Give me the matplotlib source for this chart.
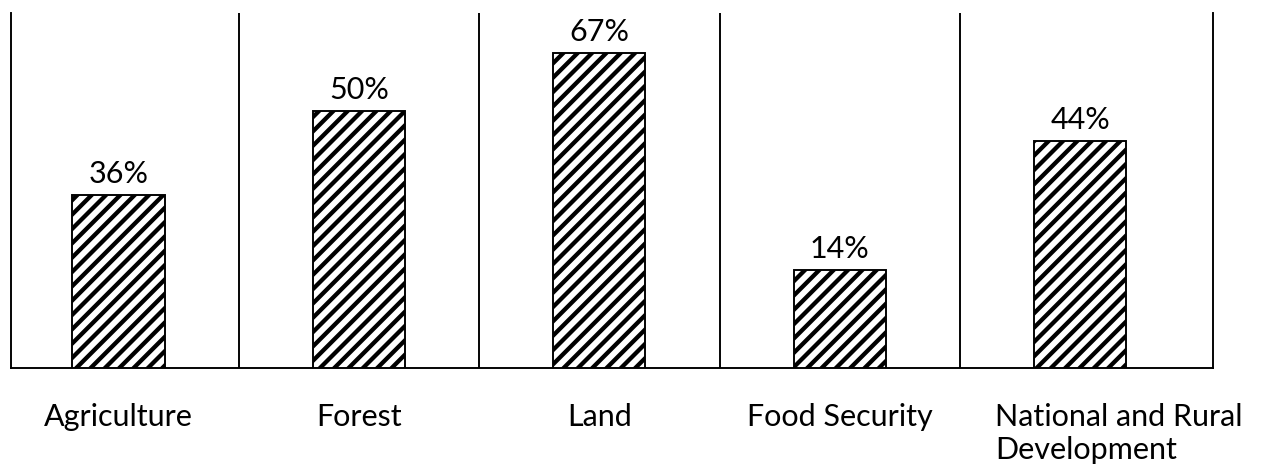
import matplotlib
matplotlib.use("Agg")
import matplotlib.pyplot as plt
import matplotlib.transforms as mtransforms
import numpy as np

categories = ["Agriculture", "Forest", "Land", "Food Security",
              "National and Rural\nDevelopment"]
bar_heights = [36.8, 54.7, 67.0, 20.9, 48.3]
value_labels = ["36%", "50%", "67%", "14%", "44%"]

DPI = 86
plt.rcParams['font.family'] = ['Lato', 'DejaVu Sans']
plt.rcParams['hatch.linewidth'] = 3.6
plt.rcParams['hatch.color'] = 'black'

W, H = 1270, 473
fig = plt.figure(figsize=(W / DPI, H / DPI), dpi=DPI)
ax = fig.add_axes([11 / W, (H - 368) / H, (1213 - 11) / W, (368 - 13) / H])

x = np.arange(len(categories))
ax.bar(x, bar_heights, width=0.383, facecolor='white', edgecolor='black',
       linewidth=1.6, hatch='//', zorder=3)

ax.set_xlim(-0.447, len(categories) - 1 + 0.552)
ax.set_ylim(0, 75.5)

for xi, h, lab in zip(x, bar_heights, value_labels):
    ax.annotate(lab, (xi, h), xytext=(0, 10), textcoords='offset points',
                ha='center', va='baseline', fontsize=25.5)

# separators between categories
for b in np.arange(0.5, len(categories) - 0.5, 1.0):
    ax.axvline(b, color='black', linewidth=1.6, zorder=2)

for s in ['left', 'right', 'bottom']:
    ax.spines[s].set_linewidth(1.6)
ax.spines['top'].set_visible(False)

ax.set_yticks([])
ax.set_xticks(x)
ax.set_xticklabels(categories, fontsize=25.5, linespacing=1.22,
                   multialignment='left', va='top')
ax.tick_params(axis='x', length=0, pad=29)
lab5 = ax.get_xticklabels()[-1]
lab5.set_ha('left')
lab5.set_transform(lab5.get_transform() +
                   mtransforms.ScaledTranslation(-85 / DPI, 0, fig.dpi_scale_trans))

fig.savefig("out.png", dpi=DPI)
